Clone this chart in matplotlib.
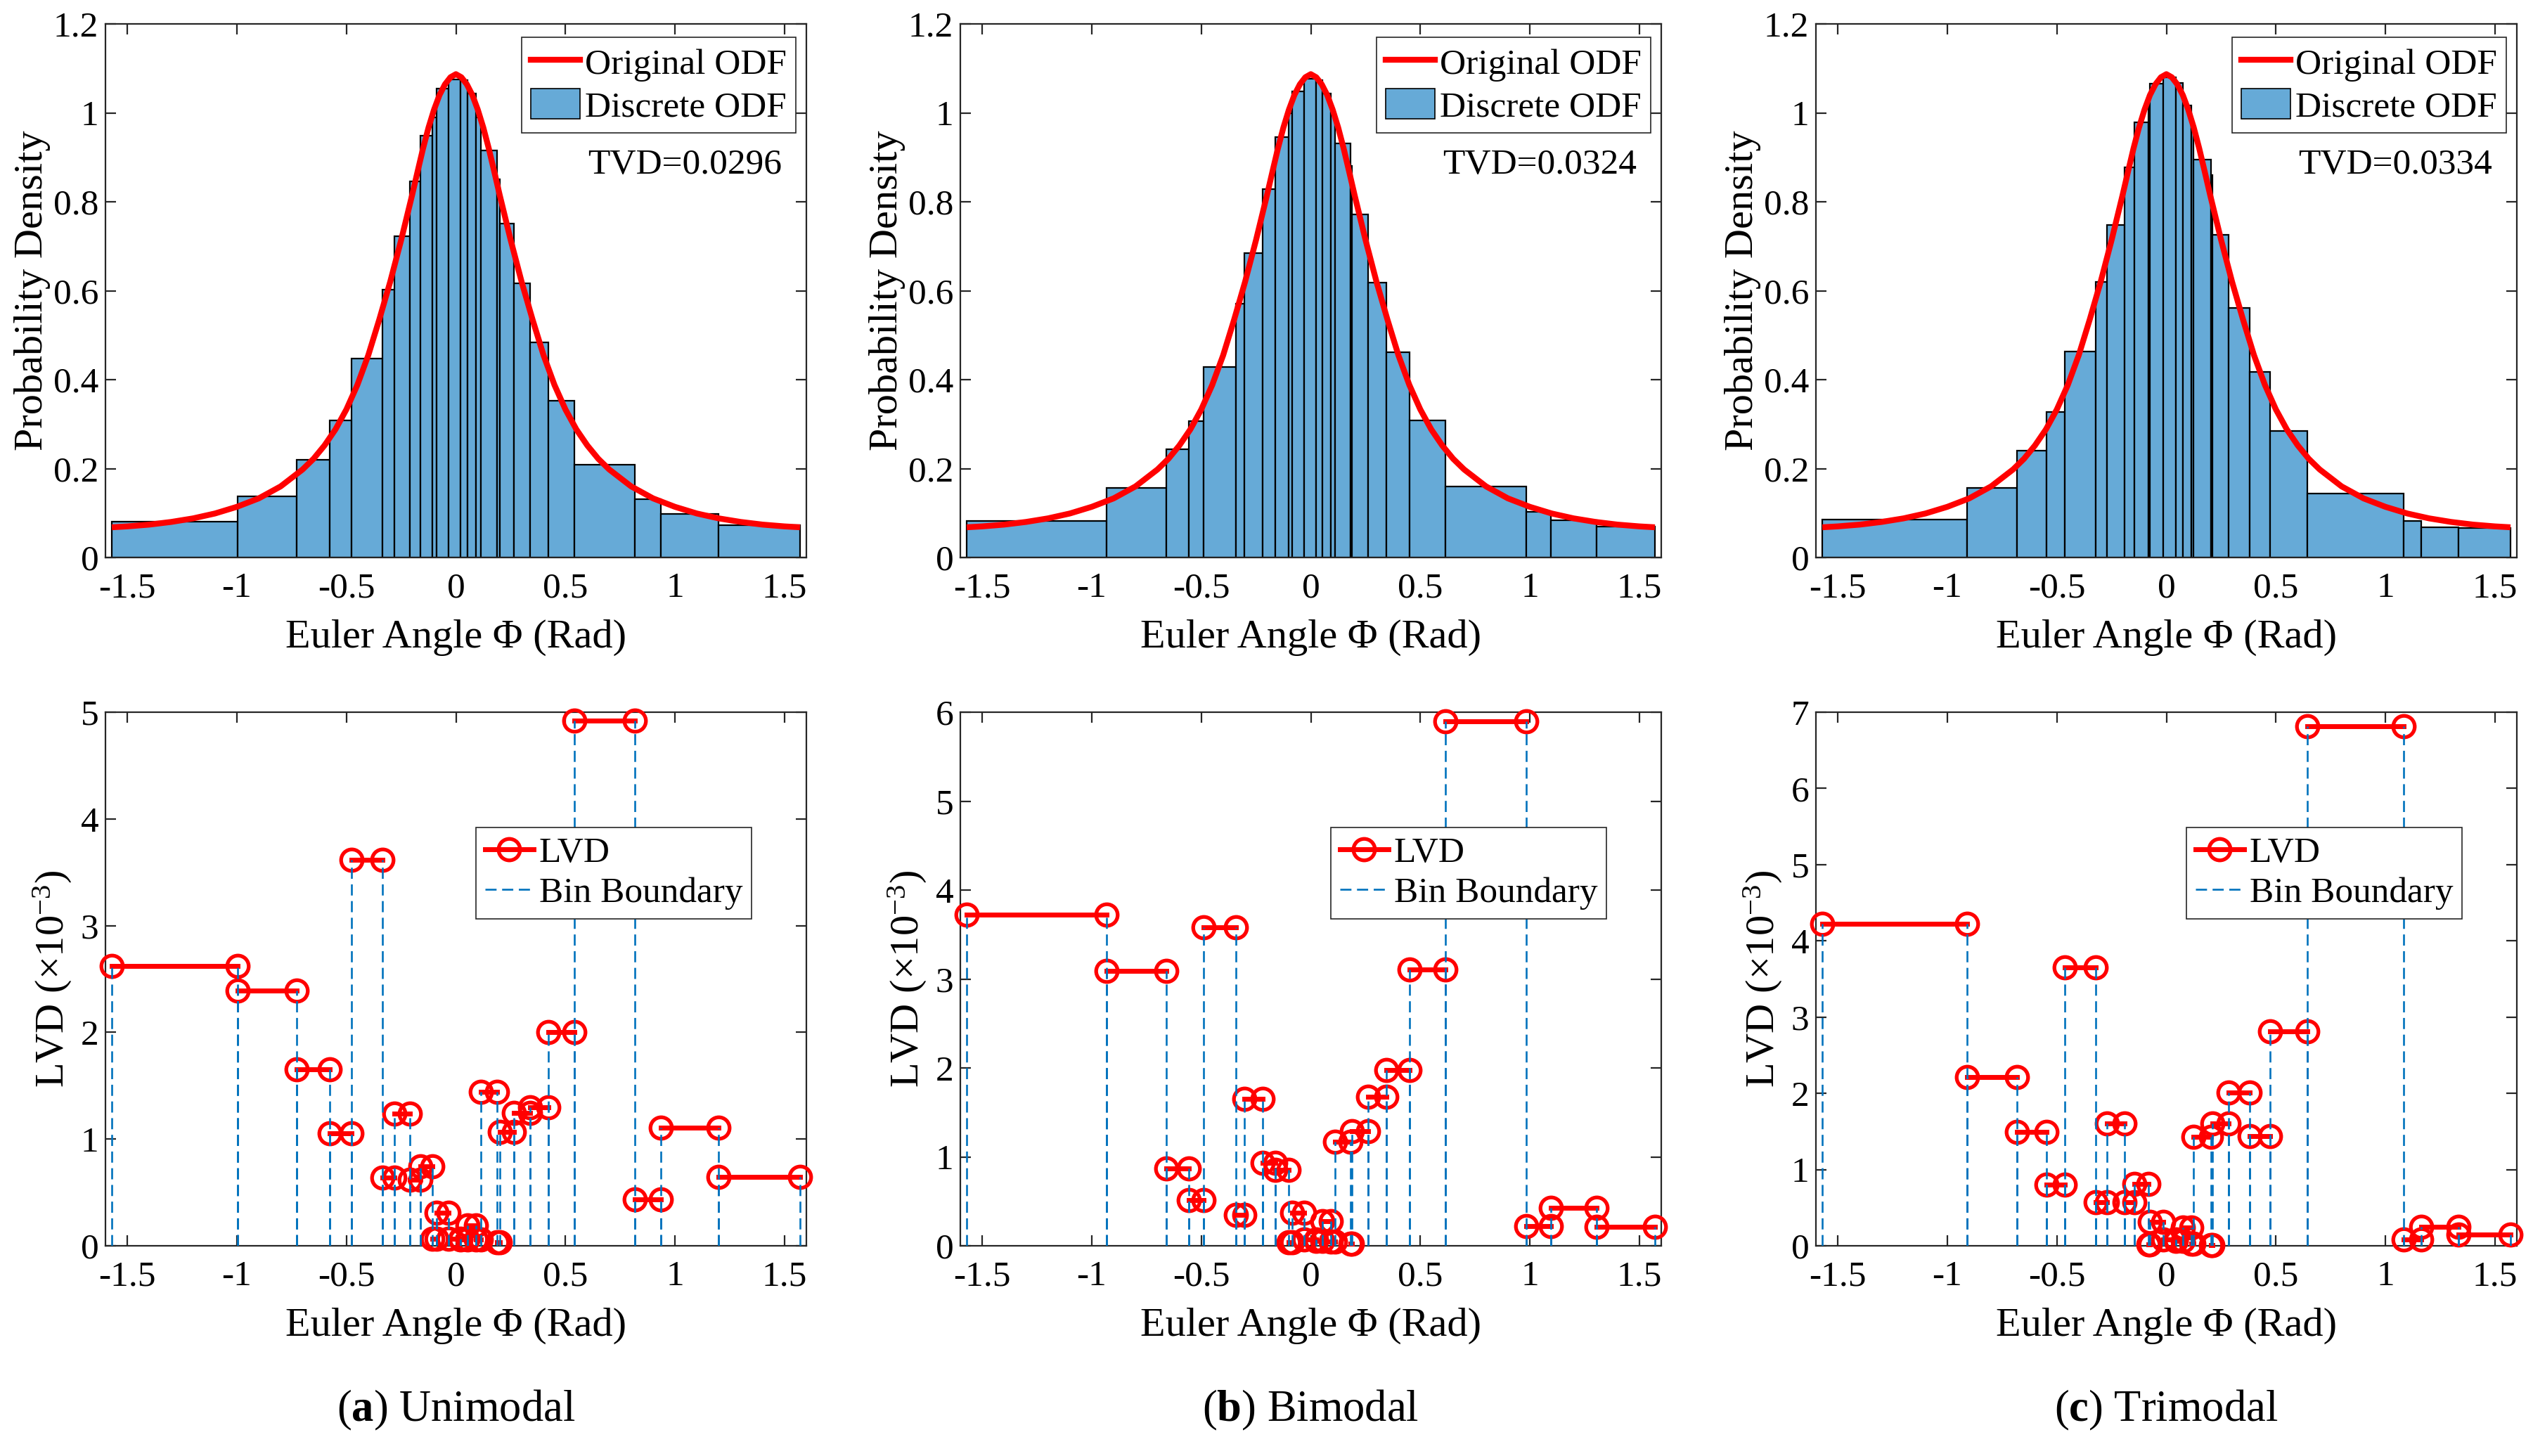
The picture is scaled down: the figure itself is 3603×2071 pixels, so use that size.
import numpy as np
import matplotlib
matplotlib.use("Agg")
import matplotlib.pyplot as plt
from matplotlib.patches import Patch
from matplotlib.lines import Line2D

plt.rcParams['font.family'] = ['Liberation Serif', 'DejaVu Serif']
plt.rcParams['mathtext.fontset'] = 'custom'
plt.rcParams['mathtext.rm'] = 'Liberation Serif'
plt.rcParams['mathtext.it'] = 'Liberation Serif:italic'
plt.rcParams['mathtext.bf'] = 'Liberation Serif:bold'

# ---------------- data ----------------
# Original ODF curve (same in all three panels)
odf_x = [-1.571, -1.5, -1.4, -1.3, -1.2, -1.1, -1.0, -0.9, -0.8, -0.7, -0.65, -0.6, -0.55,
         -0.5, -0.45, -0.4, -0.35, -0.3, -0.25, -0.2, -0.175, -0.15, -0.125, -0.1, -0.075,
         -0.05, -0.025, 0.0, 0.025, 0.05, 0.075, 0.1, 0.125, 0.15, 0.175, 0.2, 0.25, 0.3,
         0.35, 0.4, 0.45, 0.5, 0.55, 0.6, 0.65, 0.7, 0.8, 0.9, 1.0, 1.1, 1.2, 1.3, 1.4,
         1.5, 1.571]
odf_y = [0.068, 0.070, 0.074, 0.080, 0.088, 0.099, 0.114, 0.133, 0.160, 0.198, 0.222, 0.252,
         0.288, 0.333, 0.388, 0.455, 0.535, 0.620, 0.714, 0.815, 0.868, 0.920, 0.967, 1.007,
         1.040, 1.064, 1.080, 1.087, 1.080, 1.064, 1.040, 1.007, 0.967, 0.920, 0.868, 0.815,
         0.714, 0.620, 0.535, 0.455, 0.388, 0.333, 0.288, 0.252, 0.222, 0.198, 0.160, 0.133,
         0.114, 0.099, 0.088, 0.080, 0.074, 0.070, 0.068]

# (a) Unimodal
edges_a = [-1.571, -0.995, -0.728, -0.575, -0.477, -0.334, -0.282, -0.211, -0.162, -0.107,
           -0.087, -0.034, 0.021, 0.053, 0.090, 0.113, 0.189, 0.201, 0.266, 0.338, 0.422,
           0.541, 0.818, 0.935, 1.199, 1.571]
dens_a = [0.080, 0.137, 0.219, 0.308, 0.447, 0.603, 0.722, 0.846, 0.948, 0.990, 1.054,
          1.075, 1.074, 1.044, 0.990, 0.916, 0.850, 0.751, 0.616, 0.484, 0.353, 0.208,
          0.132, 0.098, 0.073]
lvd_a = [2.62, 2.394, 1.655, 1.057, 3.614, 0.637, 1.237, 0.622, 0.747, 0.068, 0.308,
         0.068, 0.060, 0.193, 0.060, 1.44, 0.030, 1.066, 1.244, 1.297, 2.0, 4.92, 0.436,
         1.11, 0.644]

# (b) Bimodal
edges_b = [-1.571, -0.931, -0.658, -0.556, -0.488, -0.341, -0.302, -0.221, -0.161, -0.100,
           -0.086, -0.032, 0.023, 0.052, 0.093, 0.111, 0.180, 0.187, 0.261, 0.346, 0.450,
           0.616, 0.984, 1.097, 1.306, 1.571]
dens_b = [0.083, 0.156, 0.243, 0.307, 0.428, 0.570, 0.684, 0.828, 0.946, 1.000, 1.049,
          1.077, 1.074, 1.044, 1.000, 0.932, 0.880, 0.771, 0.618, 0.462, 0.308, 0.160,
          0.102, 0.084, 0.069]
lvd_b = [3.724, 3.093, 0.867, 0.513, 3.579, 0.347, 1.649, 0.930, 0.850, 0.037, 0.371,
         0.070, 0.058, 0.274, 0.045, 1.17, 0.026, 1.29, 1.676, 1.975, 3.11, 5.90, 0.223,
         0.43, 0.213]

# (c) Trimodal
edges_c = [-1.571, -0.910, -0.681, -0.547, -0.463, -0.322, -0.271, -0.192, -0.145, -0.082,
           -0.074, -0.016, 0.042, 0.075, 0.114, 0.125, 0.203, 0.210, 0.285, 0.380, 0.475,
           0.643, 1.084, 1.165, 1.335, 1.571]
dens_c = [0.085, 0.156, 0.241, 0.328, 0.463, 0.619, 0.748, 0.877, 0.978, 1.020, 1.066,
          1.080, 1.067, 1.016, 0.970, 0.895, 0.860, 0.726, 0.562, 0.417, 0.284, 0.144,
          0.082, 0.068, 0.066]
lvd_c = [4.226, 2.211, 1.495, 0.80, 3.653, 0.572, 1.609, 0.572, 0.815, 0.020, 0.317,
         0.080, 0.060, 0.240, 0.030, 1.434, 0.010, 1.609, 2.015, 1.442, 2.81, 6.813, 0.085,
         0.25, 0.148]

tvd_labels = ['TVD=0.0296', 'TVD=0.0324', 'TVD=0.0334']
captions = [r'($\mathbf{a}$) Unimodal', r'($\mathbf{b}$) Bimodal', r'($\mathbf{c}$) Trimodal']
lvd_ylims = [5, 6, 7]

x_ticks = [-1.5, -1, -0.5, 0, 0.5, 1, 1.5]
x_ticklabels = ['-1.5', '-1', '-0.5', '0', '0.5', '1', '1.5']
top_yticks = [0, 0.2, 0.4, 0.6, 0.8, 1.0, 1.2]
top_yticklabels = ['0', '0.2', '0.4', '0.6', '0.8', '1', '1.2']

# ---------------- style ----------------
W, H = 3603, 2071
fig = plt.figure(figsize=(W / 100, H / 100), dpi=100)

BAR_COLOR = '#66AAD7'
RED = '#FF0000'
BLUE = '#0072BD'
AX_COLOR = '#262626'
TICK_FS = 37
LABEL_FS = 42
LEG_FS = 37
CAP_FS = 45
MS = 22
MEW = 3.8
DASH = (0, (6.0, 3.0))

col_left = [150, 1366, 2583]
col_w = 997
top_y0, top_y1 = 34, 793
bot_y0, bot_y1 = 1013, 1772

def style_axes(ax):
    for s in ax.spines.values():
        s.set_color(AX_COLOR)
        s.set_linewidth(1.6)
    ax.tick_params(direction='in', length=11, width=1.6, colors=AX_COLOR,
                   labelcolor='black', labelsize=TICK_FS, top=True, right=True,
                   pad=7)
    ax.tick_params(axis='x', pad=15)

all_edges = [edges_a, edges_b, edges_c]
all_dens = [dens_a, dens_b, dens_c]
all_lvd = [lvd_a, lvd_b, lvd_c]

for i in range(3):
    edges = np.array(all_edges[i])
    widths = np.diff(edges)
    # ---- top: histogram + ODF ----
    ax = fig.add_axes([col_left[i] / W, 1 - top_y1 / H, col_w / W, (top_y1 - top_y0) / H])
    ax.bar(edges[:-1], all_dens[i], width=widths, align='edge', color=BAR_COLOR,
           edgecolor='black', linewidth=1.6, zorder=2)
    ax.plot(odf_x, odf_y, color=RED, lw=6.0, zorder=3, solid_capstyle='butt')
    ax.set_xlim(-1.6, 1.6)
    ax.set_ylim(0, 1.2)
    ax.set_xticks(x_ticks)
    ax.set_xticklabels(x_ticklabels)
    ax.set_yticks(top_yticks)
    ax.set_yticklabels(top_yticklabels)
    style_axes(ax)
    ax.set_xlabel('Euler Angle \u03A6 (Rad)', fontsize=LABEL_FS, labelpad=15)
    ax.set_ylabel('Probability Density', fontsize=LABEL_FS, labelpad=3)
    handles = [Line2D([], [], color=RED, lw=6.0),
               Patch(facecolor=BAR_COLOR, edgecolor='black', linewidth=1.2)]
    leg = ax.legend(handles, ['Original ODF', 'Discrete ODF'], loc='upper right',
                    bbox_to_anchor=(0.985, 0.975), borderaxespad=0, fontsize=LEG_FS,
                    frameon=True, fancybox=False, edgecolor=AX_COLOR, framealpha=1,
                    borderpad=0.25, labelspacing=0.2, handlelength=1.35,
                    handletextpad=0.15, handleheight=0.9)
    leg.get_frame().set_linewidth(1.2)
    ax.text(0.965, 0.735, tvd_labels[i], transform=ax.transAxes, ha='right',
            va='center', fontsize=LEG_FS)

    # ---- bottom: LVD ----
    ax2 = fig.add_axes([col_left[i] / W, 1 - bot_y1 / H, col_w / W, (bot_y1 - bot_y0) / H])
    lvd = all_lvd[i]
    for k in range(len(lvd)):
        ax2.plot([edges[k], edges[k + 1]], [lvd[k], lvd[k]], color=RED, lw=5.0,
                 marker='o', markersize=MS, markerfacecolor='none',
                 markeredgewidth=MEW, markeredgecolor=RED, zorder=3, clip_on=False)
    for k in range(len(lvd)):
        for xe in (edges[k], edges[k + 1]):
            ax2.plot([xe, xe], [0, lvd[k]], color=BLUE, lw=1.9,
                     linestyle=DASH, zorder=4)
    ax2.set_xlim(-1.6, 1.6)
    ax2.set_ylim(0, lvd_ylims[i])
    ax2.set_xticks(x_ticks)
    ax2.set_xticklabels(x_ticklabels)
    ax2.set_yticks(list(range(lvd_ylims[i] + 1)))
    style_axes(ax2)
    ax2.set_xlabel('Euler Angle \u03A6 (Rad)', fontsize=LABEL_FS, labelpad=15)
    ax2.set_ylabel(r'LVD ($\times10^{-3}$)', fontsize=LABEL_FS, labelpad=7)
    h2 = [Line2D([], [], color=RED, lw=5.0, marker='o', markersize=MS,
                 markerfacecolor='none', markeredgewidth=MEW),
          Line2D([], [], color=BLUE, lw=1.9, linestyle=DASH)]
    leg2 = ax2.legend(h2, ['LVD', 'Bin Boundary'], loc='upper right',
                      bbox_to_anchor=(0.922, 0.784), borderaxespad=0, fontsize=LEG_FS,
                      frameon=True, fancybox=False, edgecolor=AX_COLOR, framealpha=1,
                      borderpad=0.25, labelspacing=0.2, handlelength=1.35,
                      handletextpad=0.15, numpoints=1)
    leg2.get_frame().set_linewidth(1.2)

    # caption
    fig.text((col_left[i] + col_w / 2) / W, 1 - 2006 / H, captions[i],
             ha='center', va='center', fontsize=CAP_FS)

fig.savefig('out.png', dpi=100)
